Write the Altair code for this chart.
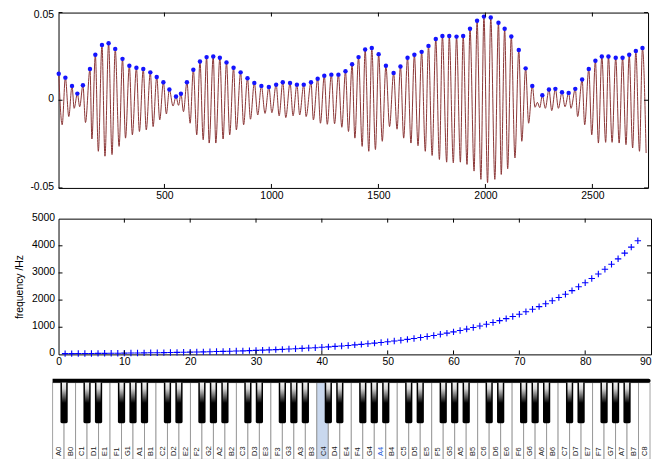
import altair as alt
import pandas as pd

# ---------------- top panel: waveform (extrema) ----------------
peak_t = [6, 37, 68, 93, 119, 152, 177, 208, 239, 270, 304, 336, 369, 401, 434, 464, 495, 523,
          554, 577, 605, 635, 666, 697, 728, 759, 790, 823, 856, 888, 920, 953, 988, 1022, 1053,
          1087, 1119, 1151, 1185, 1216, 1247, 1280, 1313, 1346, 1377, 1407, 1438, 1469, 1501,
          1535, 1571, 1603, 1636, 1668, 1702, 1734, 1768, 1799, 1831, 1865, 1896, 1928, 1961,
          1993, 2025, 2061, 2090, 2121, 2156, 2188, 2219, 2266, 2297, 2327, 2358, 2389, 2420,
          2452, 2483, 2514, 2544, 2575, 2609, 2641, 2672, 2703, 2734]
peak_v = [0.0151, 0.0129, 0.0082, 0.0038, 0.0086, 0.0178, 0.0259, 0.0315, 0.0325, 0.0293,
          0.0236, 0.0197, 0.0185, 0.0178, 0.0159, 0.0133, 0.0103, 0.0061, 0.0021, 0.0037,
          0.0103, 0.0174, 0.0221, 0.0246, 0.0250, 0.0242, 0.0216, 0.0185, 0.0159, 0.0125,
          0.0099, 0.0082, 0.0076, 0.0089, 0.0103, 0.0099, 0.0089, 0.0089, 0.0103, 0.0123,
          0.0140, 0.0146, 0.0146, 0.0165, 0.0205, 0.0246, 0.0289, 0.0298, 0.0263, 0.0197,
          0.0155, 0.0193, 0.0242, 0.0259, 0.0276, 0.0310, 0.0349, 0.0366, 0.0366, 0.0363,
          0.0366, 0.0408, 0.0453, 0.0477, 0.0472, 0.0442, 0.0408, 0.0364, 0.0287, 0.0182,
          0.0082, 0.0029, 0.0061, 0.0065, 0.0046, 0.0042, 0.0065, 0.0118, 0.0178, 0.0225,
          0.0250, 0.0250, 0.0242, 0.0242, 0.0259, 0.0281, 0.0298]
trough_t = [22, 53, 78, 104, 131, 161, 191, 222, 255, 288, 318, 350, 383, 415, 447, 478, 509,
            540, 566, 589, 620, 651, 681,
            709, 740, 774, 805, 836, 870, 902, 936, 970, 1002, 1036, 1067, 1101, 1132, 1162,
            1196, 1229, 1261, 1295, 1329, 1360,
            1390, 1424, 1455, 1486, 1518, 1552, 1587, 1618, 1652, 1685, 1719, 1751, 1785, 1819,
            1850, 1883, 1914, 1947, 1979, 2010, 2044,
            2074, 2104, 2138, 2170, 2202, 2232, 2254,
            2280, 2310, 2341, 2372, 2400, 2431, 2464, 2497, 2528, 2562, 2592, 2625, 2657, 2688,
            2720, 2751]
trough_v = [-0.0140, -0.0093, -0.0046, -0.0037, -0.0127, -0.0221, -0.0291, -0.0319, -0.0310,
            -0.0263, -0.0216, -0.0197, -0.0178, -0.0169, -0.0150, -0.0112, -0.0078, -0.0033,
            -0.0029, -0.0065, -0.0131, -0.0197, -0.0225,
            -0.0244, -0.0244, -0.0221, -0.0197, -0.0169, -0.0140, -0.0108, -0.0084, -0.0075,
            -0.0071, -0.0089, -0.0099, -0.0089, -0.0084, -0.0093, -0.0112, -0.0131, -0.0137,
            -0.0134, -0.0154, -0.0178,
            -0.0216, -0.0263, -0.0291, -0.0281, -0.0234, -0.0150, -0.0165, -0.0216, -0.0244,
            -0.0259, -0.0291, -0.0315, -0.0338, -0.0353, -0.0357, -0.0353, -0.0366, -0.0404,
            -0.0451, -0.0470, -0.0451,
            -0.0423, -0.0391, -0.0329, -0.0234, -0.0131, -0.0040, -0.0042,
            -0.0046, -0.0059, -0.0046, -0.0037, -0.0046, -0.0093, -0.0140, -0.0197, -0.0244,
            -0.0240, -0.0240, -0.0244, -0.0253, -0.0272, -0.0291, -0.0301]
minor_t = [2243]
minor_v = [-0.0012]

top_x_ticks = [500, 1000, 1500, 2000, 2500]
top_y_ticks = [-0.05, 0, 0.05]

# ---------------- middle panel: key frequencies ----------------
key_freq = [27.5, 29.1, 30.9, 32.7, 34.6, 36.7, 38.9, 41.2, 43.7, 46.2, 49.0, 51.9,
            55.0, 58.3, 61.7, 65.4, 69.3, 73.4, 77.8, 82.4, 87.3, 92.5, 98.0, 103.8,
            110.0, 116.5, 123.5, 130.8, 138.6, 146.8, 155.6, 164.8, 174.6, 185.0, 196.0, 207.7,
            220.0, 233.1, 246.9, 261.6, 277.2, 293.7, 311.1, 329.6, 349.2, 370.0, 392.0, 415.3,
            440.0, 466.2, 493.9, 523.3, 554.4, 587.3, 622.3, 659.3, 698.5, 740.0, 784.0, 830.6,
            880.0, 932.3, 987.8, 1046.5, 1108.7, 1174.7, 1244.5, 1318.5, 1396.9, 1480.0, 1568.0, 1661.2,
            1760.0, 1864.7, 1975.5, 2093.0, 2217.5, 2349.3, 2489.0, 2637.0, 2793.8, 2960.0, 3136.0, 3322.4,
            3520.0, 3729.3, 3951.1, 4186.0]
key_num = list(range(1, len(key_freq) + 1))
mid_x_ticks = [0, 10, 20, 30, 40, 50, 60, 70, 80, 90]
mid_y_ticks = [0, 1000, 2000, 3000, 4000, 5000]
mid_y_title = "frequency /Hz"

# ---------------- keyboard ----------------
white_names = ["A0", "B0"] + [f"{n}{o}" for o in range(1, 8) for n in "CDEFGAB"] + ["C8"]
highlight_key = "C4"
blue_label = "A4"

FONT = "Liberation Sans"


def inward_ticks(xvals, yvals, xenc, yenc, xf, yf, W, H, L=4):
    dx = pd.DataFrame({xf: xvals})
    dy = pd.DataFrame({yf: yvals})
    b = alt.Chart(dx).mark_rule(color="black", strokeWidth=1).encode(
        x=xenc, y=alt.value(H - L), y2=alt.value(H))
    t = alt.Chart(dx).mark_rule(color="black", strokeWidth=1).encode(
        x=xenc, y=alt.value(0), y2=alt.value(L))
    l = alt.Chart(dy).mark_rule(color="black", strokeWidth=1).encode(
        y=yenc, x=alt.value(0), x2=alt.value(L))
    r = alt.Chart(dy).mark_rule(color="black", strokeWidth=1).encode(
        y=yenc, x=alt.value(W - L), x2=alt.value(W))
    return [b, t, l, r]


# ======== top chart ========
W1, H1 = 595, 177
rows = ([{"t": t, "v": v} for t, v in zip(peak_t, peak_v)] +
        [{"t": t, "v": v} for t, v in zip(trough_t, trough_v)] +
        [{"t": t, "v": v} for t, v in zip(minor_t, minor_v)])
wave_df = pd.DataFrame(rows).sort_values("t")
peaks_df = pd.DataFrame({"t": peak_t, "v": peak_v})

xs1 = alt.Scale(domain=[5, 2760], nice=False, zero=False)
ys1 = alt.Scale(domain=[-0.05, 0.05], nice=False, zero=False)
xax1 = alt.Axis(values=top_x_ticks, format="d", labelPadding=3, labelFlush=False)
yax1 = alt.Axis(values=top_y_ticks, labelPadding=5,
                labelOffset={"condition": {"test": "datum.value > 0.04", "value": 1.5}, "value": -1.5},
                labelExpr="datum.value < 0 ? '-' + format(-datum.value, '.2~f') : format(datum.value, '.2~f')")
X1 = alt.X("t:Q", scale=xs1, title=None, axis=xax1)
Y1 = alt.Y("v:Q", scale=ys1, title=None, axis=yax1)

wave = alt.Chart(wave_df).mark_line(interpolate="monotone", color="#8a3535", strokeWidth=1).encode(x=X1, y=Y1)
dots = alt.Chart(peaks_df).mark_circle(size=20, color="#1414ff", opacity=1).encode(x=X1, y=Y1)
top = alt.layer(wave, dots, *inward_ticks(top_x_ticks, top_y_ticks, X1, Y1, "t", "v", W1, H1)).properties(
    width=W1, height=H1)

# ======== middle chart ========
W2, H2 = 598, 137
freq_df = pd.DataFrame({"k": key_num, "f": key_freq})
xs2 = alt.Scale(domain=[0, 90], nice=False, zero=False)
ys2 = alt.Scale(domain=[0, 5000], nice=False)
xax2 = alt.Axis(values=mid_x_ticks, format="d", labelPadding=2, labelFlush=False,
                labelAlign={"condition": {"test": "datum.value >= 90", "value": "right"}, "value": "center"})
yax2 = alt.Axis(values=mid_y_ticks, format="d", labelPadding=4, labelOffset=-1.5, titlePadding=7.5)
X2 = alt.X("k:Q", scale=xs2, title=None, axis=xax2)
Y2 = alt.Y("f:Q", scale=ys2, title=mid_y_title, axis=yax2)
pts = alt.Chart(freq_df).mark_point(shape="M-1,0L1,0M0,-1L0,1", size=42, filled=False,
                                     color="#0000ff", strokeWidth=1.1, opacity=1).encode(x=X2, y=Y2)
middle = alt.layer(pts, *inward_ticks(mid_x_ticks[1:-1], mid_y_ticks[1:-1], X2, Y2, "k", "f", W2, H2)).properties(
    width=W2, height=H2)

# ======== keyboard ========
W3, H3 = 597, 82
BAR_TOP, BAR_BOT = 0.5, 4.5
BLACK_BOT = 45.5
LABEL_Y = 78.5
BW = 0.315

white_df = pd.DataFrame({"i": list(range(len(white_names))), "name": white_names})
black_pos = [i + 1 for i, n in enumerate(white_names) if n[0] in "CDFGA" and i < len(white_names) - 1]
black_df = pd.DataFrame({"p": black_pos})

kx = alt.Scale(domain=[0.517, len(white_names)], nice=False, zero=False)
ky = alt.Scale(domain=[H3, 0], nice=False, zero=False)

whites = alt.Chart(white_df).transform_calculate(
    x2="datum.i + 1", y1=str(BAR_BOT), y2=str(H3)
).mark_rect(stroke="#8a8a8a", strokeWidth=0.8).encode(
    x=alt.X("i:Q", scale=kx, axis=None), x2="x2:Q",
    y=alt.Y("y1:Q", scale=ky, axis=None), y2="y2:Q",
    fill=alt.condition(alt.datum.name == highlight_key, alt.value("#c9d8ee"), alt.value("white")),
)
bar = alt.Chart(pd.DataFrame({"a": [0], "b": [len(white_names) + 0.05]})).transform_calculate(
    y1=str(BAR_TOP), y2=str(BAR_BOT)
).mark_rect(color="black", cornerRadiusTopRight=2, cornerRadiusBottomRight=2).encode(
    x=alt.X("a:Q", scale=kx, axis=None), x2="b:Q",
    y=alt.Y("y1:Q", scale=ky, axis=None), y2="y2:Q")
blacks = alt.Chart(black_df).transform_calculate(
    x1=f"datum.p - {BW}", x2=f"datum.p + {BW}", y1=str(BAR_BOT), y2=str(BLACK_BOT)
).mark_rect(color="black", cornerRadiusBottomLeft=1.5, cornerRadiusBottomRight=1.5).encode(
    x=alt.X("x1:Q", scale=kx, axis=None), x2="x2:Q",
    y=alt.Y("y1:Q", scale=ky, axis=None), y2="y2:Q")
grad = alt.Gradient(gradient="linear",
                    stops=[alt.GradientStop(offset=0, color="#f4f4f4"),
                           alt.GradientStop(offset=0.3, color="#d4d4d4"),
                           alt.GradientStop(offset=1, color="#000000")],
                    x1=0, x2=0, y1=0, y2=1)
shine = alt.Chart(black_df).transform_calculate(
    x1=f"datum.p - {BW - 0.13}", x2=f"datum.p + {BW - 0.13}", y1=str(BAR_BOT), y2="25"
).mark_rect(color=grad).encode(
    x=alt.X("x1:Q", scale=kx, axis=None), x2="x2:Q",
    y=alt.Y("y1:Q", scale=ky, axis=None), y2="y2:Q")
labels = alt.Chart(white_df).transform_calculate(
    xc="datum.i + 0.5", yl=str(LABEL_Y)
).mark_text(angle=270, align="left", baseline="middle", fontSize=7.5, font=FONT, dy=1).encode(
    x=alt.X("xc:Q", scale=kx, axis=None),
    y=alt.Y("yl:Q", scale=ky, axis=None),
    text="name:N",
    color=alt.condition(alt.datum.name == blue_label, alt.value("#2b5fd9"), alt.value("#222222")),
)
keyboard = alt.layer(whites, bar, blacks, shine, labels).properties(
    width=W3, height=H3, view=alt.ViewBackground(stroke="transparent"))

chart = alt.vconcat(top, middle, keyboard, spacing=10).properties(
    padding={"left": 5, "top": -1.5, "right": 0, "bottom": 0}
).configure(font=FONT).configure_axis(
    labelFont=FONT, labelFontSize=10.5, labelColor="black",
    titleFont=FONT, titleFontSize=10.5, titleColor="black", titleFontWeight="normal",
    grid=False, domain=False, ticks=False,
).configure_view(stroke="black", strokeWidth=1)

chart.save("out.html", embed_options={"renderer": "svg", "actions": False})
